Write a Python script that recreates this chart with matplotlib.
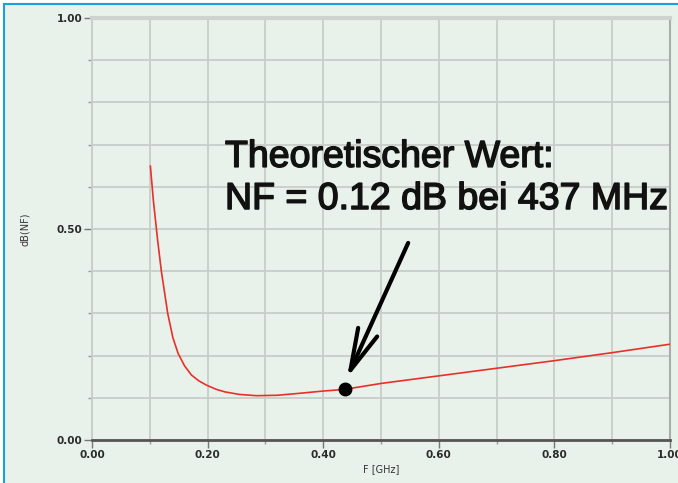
import matplotlib
matplotlib.use("Agg")
import matplotlib.pyplot as plt
import matplotlib.patheffects as pe
from matplotlib.patches import Rectangle
from matplotlib.ticker import MultipleLocator, FormatStrFormatter

# Rauschmass ueber Frequenz
freq_ghz = [0.101, 0.106, 0.1135, 0.120, 0.131, 0.140, 0.149, 0.160, 0.172,
            0.185, 0.198, 0.215, 0.230, 0.255, 0.285, 0.320, 0.354, 0.400,
            0.437, 0.500, 0.600, 0.700, 0.800, 0.900, 1.000]
nf_db = [0.649, 0.570, 0.474, 0.400, 0.300, 0.242, 0.205, 0.176, 0.154,
         0.140, 0.130, 0.120, 0.114, 0.108, 0.105, 0.106, 0.110, 0.116,
         0.120, 0.134, 0.152, 0.170, 0.188, 0.207, 0.227]

marker_f = 0.437
marker_nf = 0.12
note = "Theoretischer Wert:\nNF = 0.12 dB bei 437 MHz"

bg = "#e9f2ea"

fig = plt.figure(figsize=(6.78, 4.83), dpi=100)
fig.patch.set_facecolor("white")
# blauer Rahmen
fig.patches.append(Rectangle((4 / 678, -0.05), 1.2, 1.05 - 4 / 483,
                             transform=fig.transFigure, facecolor=bg,
                             edgecolor="#1a9fe0", lw=1.5, zorder=-10))

ax = fig.add_axes([92 / 678, 43 / 483, 578 / 678, 422 / 483])
ax.set_facecolor(bg)
ax.set_xlim(0, 1)
ax.set_ylim(0, 1)

ax.xaxis.set_major_locator(MultipleLocator(0.2))
ax.xaxis.set_minor_locator(MultipleLocator(0.1))
ax.yaxis.set_major_locator(MultipleLocator(0.5))
ax.yaxis.set_minor_locator(MultipleLocator(0.1))
ax.xaxis.set_major_formatter(FormatStrFormatter("%.2f"))
ax.yaxis.set_major_formatter(FormatStrFormatter("%.2f"))
ax.grid(True, which="both", color="#c9cdc9", lw=1.3)
ax.set_axisbelow(True)

ax.tick_params(which="major", length=6, width=1, color="#777777",
               labelsize=7.5, labelcolor="#2a2a2a", pad=1)
ax.tick_params(which="minor", length=3, width=1, color="#999999")
for lab in ax.get_xticklabels() + ax.get_yticklabels():
    lab.set_fontweight("bold")

ax.spines["top"].set_color("#cfd3cf")
ax.spines["top"].set_linewidth(3)
ax.spines["left"].set_color("#c9cdc9")
ax.spines["left"].set_linewidth(1.3)
ax.spines["right"].set_color("#a9ada9")
ax.spines["right"].set_linewidth(1.5)
ax.spines["bottom"].set_color("#555555")
ax.spines["bottom"].set_linewidth(2)

ax.set_xlabel("F [GHz]", fontsize=7, color="#333333", labelpad=3)
ax.set_ylabel("dB(NF)", fontsize=7, color="#333333", labelpad=19)

ax.plot(freq_ghz, nf_db, color="#e8302a", lw=1.2, zorder=3)
ax.plot([marker_f], [marker_nf], "o", color="black", ms=9, zorder=4)

ax.annotate("", xy=(0.441, 0.147), xytext=(0.547, 0.467),
            arrowprops=dict(arrowstyle="->,head_length=3.0,head_width=0.75",
                            color="black", lw=3, shrinkA=0, shrinkB=0),
            zorder=5)

fig.text(225 / 678, 1 - 209 / 483, note, fontsize=27, family="Liberation Sans",
         color="#111111", ha="left", va="baseline", linespacing=1.22,
         path_effects=[pe.withStroke(linewidth=1.1, foreground="#111111")])

fig.savefig("out.png", dpi=100, facecolor=fig.get_facecolor())
